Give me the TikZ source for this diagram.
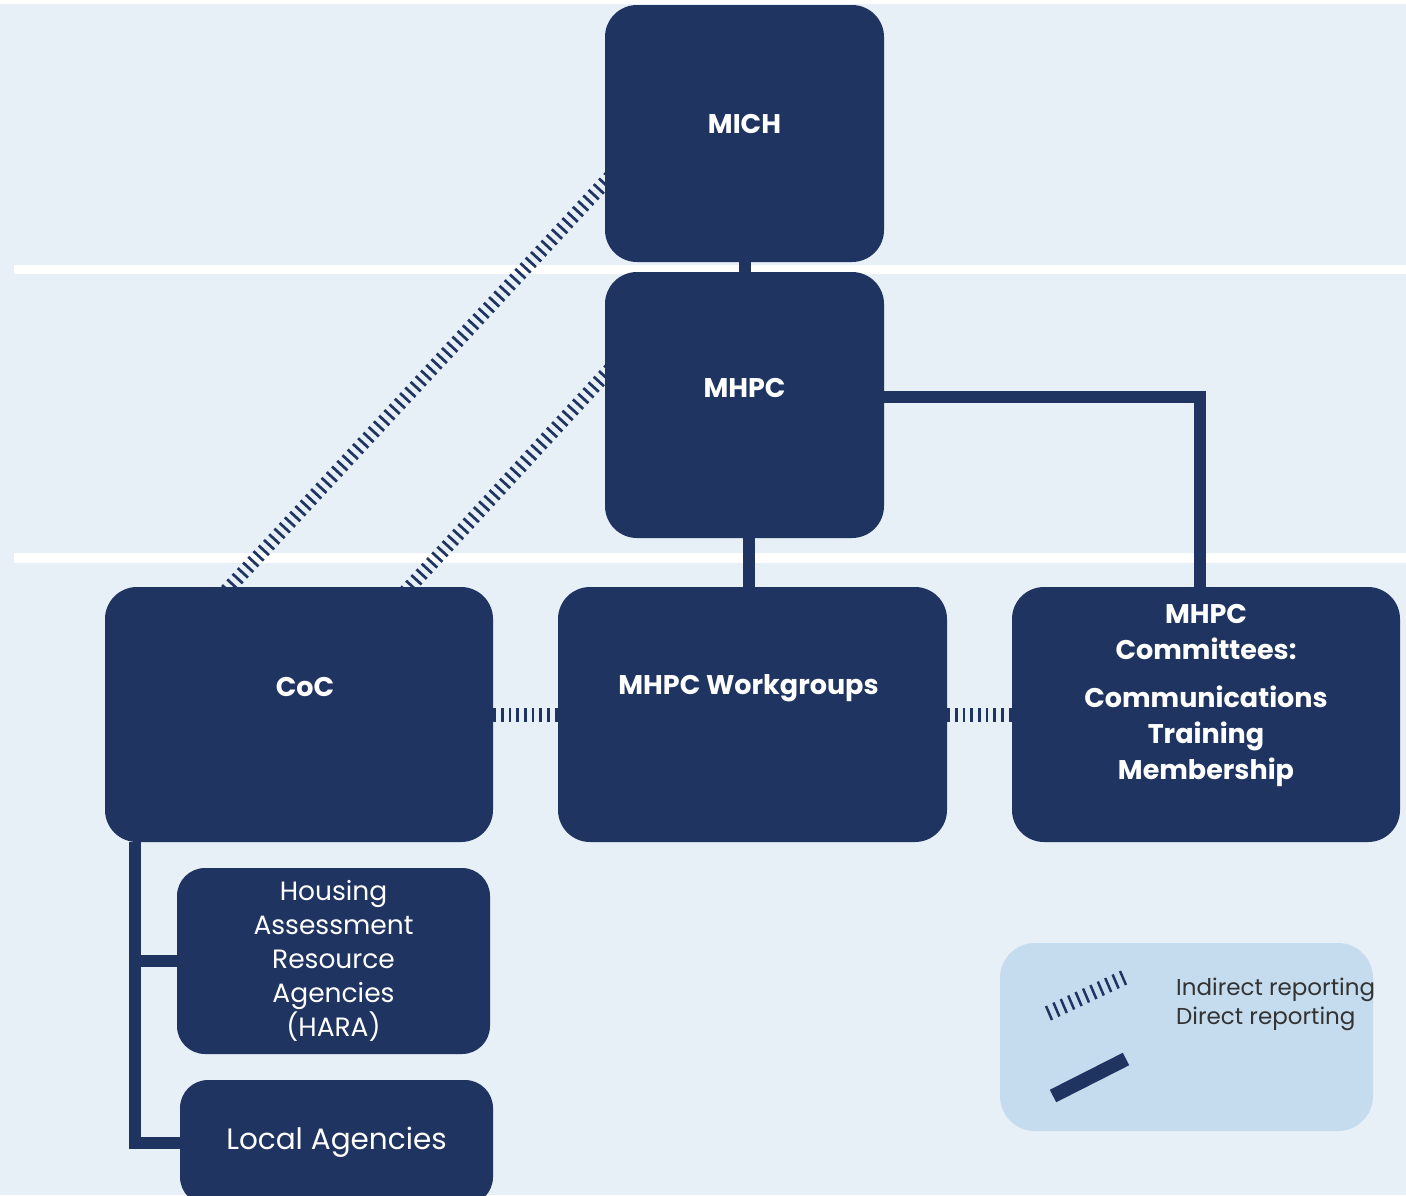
\documentclass[tikz,border=0pt]{standalone}
\usepackage{fontspec}
\setmainfont{Poppins}
\usetikzlibrary{calc}
\definecolor{navy}{HTML}{1F3461}
\definecolor{paleblue}{HTML}{E7EFF7}
\definecolor{legendblue}{HTML}{C5DCEF}
\definecolor{legendtext}{HTML}{333333}
\pgfdeclarelayer{back}
\pgfdeclarelayer{links}
\pgfsetlayers{back,links,main}
\begin{document}
\begin{tikzpicture}[x=1pt,y=-1pt]
	\tikzstyle{unit}=[rectangle,rounded corners=32pt,fill=navy,text=white,align=center,inner sep=0pt]
	\tikzstyle{boxtitle}=[text=white,align=center,font=\fontsize{27}{36}\selectfont\bfseries]
	\tikzstyle{boxtext}=[text=white,align=center,font=\fontsize{26.5}{34}\selectfont]
	\tikzstyle{direct}=[draw=navy,line width=12pt]
	\tikzstyle{indirect}=[draw=navy,line width=14pt,dash pattern=on 2.7pt off 5pt]
	\useasboundingbox (0,0) rectangle (1406,1195);
	\begin{pgfonlayer}{back}
		\fill[white] (0,0) rectangle (1406,1195);
		\fill[paleblue] (0,4) rectangle (1406,1195);
		\fill[white] (14,265) rectangle (1406,274);
		\fill[white] (14,553) rectangle (1406,563);
		\node[unit,rounded corners=35pt,fill=legendblue,minimum width=373pt,minimum height=188pt](legend) at (1186.5,1037) {};
	\end{pgfonlayer}
	\node[unit,minimum width=279pt,minimum height=257pt,label={[boxtitle,yshift=10pt]center:MICH}](mich) at (744.5,133.5) {};
	\node[unit,minimum width=279pt,minimum height=266pt,label={[boxtitle,yshift=17pt]center:MHPC}](mhpc) at (744.5,405) {};
	\node[unit,minimum width=388pt,minimum height=255pt,label={[boxtitle,xshift=6pt,yshift=27pt]center:CoC}](coc) at (299,714.5) {};
	\node[unit,minimum width=389pt,minimum height=255pt,label={[boxtitle,xshift=-4pt,yshift=26pt]center:MHPC Workgroups}](wg) at (752.5,714.5) {};
	\node[unit,minimum width=388pt,minimum height=255pt,label={[boxtitle,yshift=19pt]center:{MHPC\\Committees:\\[12pt]Communications\\Training\\Membership}}](com) at (1206,714.5) {};
	\node[unit,boxtext,rounded corners=28pt,minimum width=313pt,minimum height=186pt](hara) at (333.5,961) {Housing\\Assessment\\Resource\\Agencies\\(HARA)};
	\node[unit,boxtext,font=\fontsize{29.5}{36}\selectfont,rounded corners=28pt,minimum width=313pt,minimum height=125pt](local) at (336.5,1142.5) {Local Agencies};
	\node[anchor=north west,align=left,inner sep=0pt,text=legendtext,font=\fontsize{23}{29}\selectfont](key) at (1176,978) {Indirect reporting\\Direct reporting};
	\coordinate (ia) at (1049,1013);
	\coordinate (ib) at (1123,978);
	\coordinate (da) at (1053,1096);
	\coordinate (db) at (1126,1059);
	\begin{pgfonlayer}{links}
		\draw[direct] (mich.south) -- (mhpc.north);
		\draw[direct] ([xshift=4.5pt]mhpc.south) -- ([xshift=4.5pt]mhpc.south |- wg.north);
		\draw[direct] ($(mhpc.east)+(0,-8)$) -| ($(com.north)+(-6,0)$);
		\draw[direct] ($(coc.south west)+(30,0)$) |- (hara.west);
		\draw[direct] ($(coc.south west)+(30,0)$) |- (local.west);
		\draw[indirect] (coc.east) -- (wg.west);
		\draw[indirect] (wg.east) -- (com.west);
		\draw[indirect,shorten <=-8pt,shorten >=-8pt] ($(mich.west)+(0,49)$) -- ($(coc.north)+(-69,0)$);
		\draw[indirect,shorten <=-8pt,shorten >=-8pt] ($(mhpc.west)+(0,-30)$) -- ($(coc.north)+(111,0)$);
		\foreach \i in {0,...,10}
			\draw[navy,line width=2.5pt] ($(ia)!\i/10!(ib)$) ++(-3,-7) -- ++(6,14);
		\draw[direct,line width=14pt] (da) -- (db);
	\end{pgfonlayer}
\end{tikzpicture}
\end{document}
